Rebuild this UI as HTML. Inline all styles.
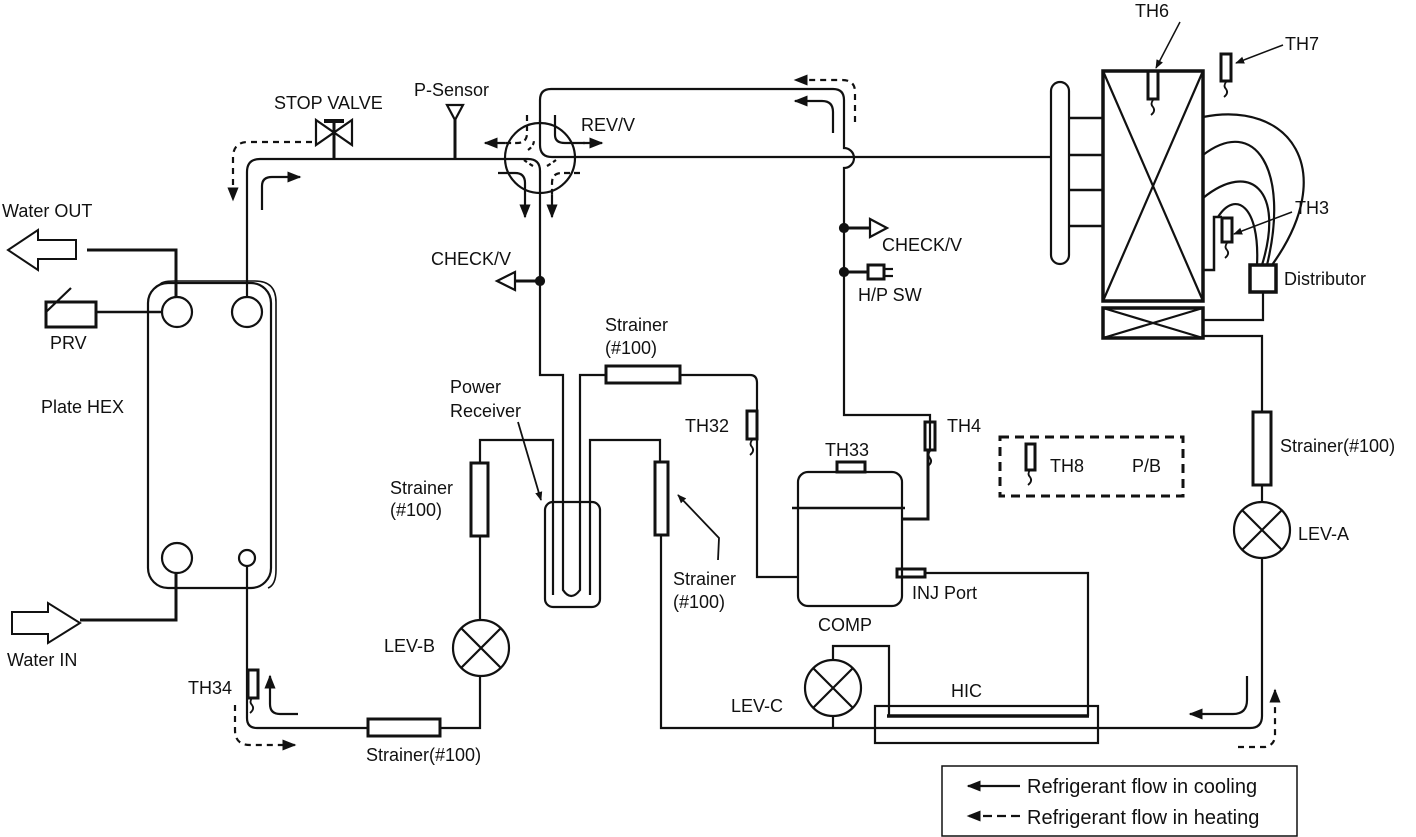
<!DOCTYPE html>
<html><head><meta charset="utf-8"><style>
html,body{margin:0;padding:0;background:#fff;}
svg{display:block;}
text{font-family:"Liberation Sans",sans-serif;font-size:18px;fill:#111;}
</style></head><body>
<svg width="1416" height="837" viewBox="0 0 1416 837" xmlns="http://www.w3.org/2000/svg">
<defs>
<marker id="ah" viewBox="0 0 10 10" refX="9" refY="5" markerWidth="9" markerHeight="9" orient="auto" markerUnits="userSpaceOnUse"><path d="M0,1 L10,5 L0,9 z" fill="#111"/></marker>
<marker id="ahb" viewBox="0 0 10 10" refX="9" refY="5" markerWidth="14" markerHeight="14" orient="auto" markerUnits="userSpaceOnUse"><path d="M0,1 L10,5 L0,9 z" fill="#111"/></marker>
</defs>
<g fill="none" stroke="#111" stroke-width="2.2">
<!-- top main pipe -->
<path d="M247,290 V172 Q247,159 260,159 H528 Q540,159 540,171 V375 H563 V590 Q571,602 580,590 V375 H605"/>
<path d="M540,120 V145 Q540,157 552,157 H1052"/>
<!-- stop valve -->
<line x1="334" y1="121" x2="334" y2="159" stroke-width="3"/>
<line x1="324" y1="121" x2="344" y2="121" stroke-width="4"/>
<path d="M316,120 L352,145 L352,120 L316,145 Z"/>
<!-- P-sensor -->
<line x1="455" y1="118" x2="455" y2="159" stroke-width="3"/>
<path d="M447,105 L463,105 L455,120 Z"/>
<!-- REV/V -->
<circle cx="540" cy="158" r="35"/>
<path d="M540,122 V100 Q540,89 551,89 H833 Q844,89 844,100 V148 A9,9 0 0 1 844,168 V415 H930 V450"/>
<!-- ticks and dashed internals -->
<path d="M555,115 V135 Q555,143 565,143 H585"/>
<path d="M527,115 V133 Q527,143 517,143 H505" stroke-dasharray="6,4"/>
<path d="M498,173 H515 Q525,173 525,183 V195"/>
<path d="M580,173 H562 Q552,173 552,183 V195" stroke-dasharray="6,4"/>
<path d="M528,150 Q534,146 534,140" stroke-dasharray="4,3"/>
<path d="M547,166 Q552,163 556,160" stroke-dasharray="4,3"/>
<path d="M533,166 Q528,163 524,160" stroke-dasharray="4,3"/>
<line x1="583" y1="143" x2="602" y2="143" marker-end="url(#ahb)"/>
<line x1="505" y1="143" x2="485" y2="143" marker-end="url(#ahb)"/>
<line x1="525" y1="195" x2="525" y2="217" marker-end="url(#ahb)"/>
<line x1="552" y1="195" x2="552" y2="217" marker-end="url(#ahb)"/>
<!-- check/V left -->
<circle cx="540" cy="281" r="4" fill="#111"/>
<line x1="540" y1="281" x2="515" y2="281" stroke-width="3"/>
<path d="M515,272 L515,290 L497,281 Z"/>
<!-- check/V right, H/P SW -->
<circle cx="844" cy="228" r="4" fill="#111"/>
<line x1="844" y1="228" x2="870" y2="228" stroke-width="3"/>
<path d="M870,219 L870,237 L887,228 Z"/>
<circle cx="844" cy="272" r="4" fill="#111"/>
<line x1="844" y1="272" x2="868" y2="272" stroke-width="3"/>
<rect x="868" y="265" width="16" height="14" stroke-width="3"/>
<line x1="884" y1="269" x2="893" y2="269"/><line x1="884" y1="276" x2="893" y2="276"/>
<!-- Plate HEX -->
<rect x="148" y="283" width="123" height="305" rx="20"/>
<path d="M160,285 Q160,281 175,281 H255 Q276,281 276,302 V570 Q276,585 268,588" stroke-width="1.6"/>
<circle cx="177" cy="312" r="15"/><circle cx="247" cy="312" r="15"/>
<circle cx="177" cy="558" r="15"/><circle cx="247" cy="558" r="8"/>
<path d="M247,297 V290"/>
<path d="M87,250 H176 V297" stroke-width="3"/>
<path d="M76,240 V259 H38 V270 L8,250 L38,230 V240 Z" stroke-width="2"/>
<rect x="46" y="302" width="50" height="25" stroke-width="3"/>
<line x1="96" y1="312" x2="162" y2="312" stroke-width="2.5"/>
<line x1="46" y1="312" x2="71" y2="288"/>
<path d="M176,573 V620 H80" stroke-width="3"/>
<path d="M12,612 H48 V603 L80,623 L48,643 V634 H12 Z" stroke-width="2"/>
<!-- bottom-left loop -->
<path d="M247,566 V718 Q247,728 257,728 H368"/>
<rect x="368" y="719" width="72" height="17" stroke-width="3"/>
<path d="M440,728 H480 V676"/>
<circle cx="481" cy="648" r="28"/>
<path d="M461,628 L501,668 M501,628 L461,668"/>
<path d="M480,620 V536"/>
<rect x="471" y="463" width="17" height="73" stroke-width="3"/>
<path d="M480,463 V440 H553 V595"/>
<!-- receiver -->
<rect x="545" y="502" width="55" height="105" rx="8"/>
<path d="M590,595 V440 H660 V462"/>
<rect x="655" y="462" width="13" height="73" stroke-width="3"/>
<path d="M661,535 V728 H1250 Q1262,728 1262,716 V558"/>
<rect x="606" y="366" width="74" height="17" stroke-width="3"/>
<path d="M680,375 H750 Q757,375 757,383 V577 H798"/>
<!-- TH32 -->
<rect x="747" y="411" width="10" height="28" stroke-width="3"/>
<!-- comp -->
<rect x="798" y="472" width="104" height="134" rx="10"/>
<line x1="792" y1="508" x2="905" y2="508" stroke-width="2.5"/>
<rect x="837" y="462" width="28" height="10" stroke-width="3"/>
<path d="M902,519 H928 V450" stroke-width="3"/>
<rect x="925" y="422" width="10" height="28" stroke-width="3"/>
<rect x="897" y="569" width="28" height="8" stroke-width="3"/>
<path d="M925,573 H1088 V716"/>
<!-- HIC -->
<rect x="875" y="706" width="223" height="37"/>
<line x1="887" y1="716" x2="1089" y2="716" stroke-width="3.5"/>
<path d="M889,716 V646 H833 V660"/>
<circle cx="833" cy="688" r="28"/>
<path d="M813,668 L853,708 M853,668 L813,708"/>
<path d="M833,716 V728"/>
<!-- LEV-A / strainer right -->
<circle cx="1262" cy="530" r="28"/>
<path d="M1242,510 L1282,550 M1282,510 L1242,550"/>
<path d="M1262,502 V485"/>
<rect x="1253" y="412" width="18" height="73" stroke-width="3"/>
<path d="M1262,412 V336 H1203"/>
<!-- heat exchanger -->
<rect x="1103" y="71" width="100" height="230" stroke-width="3.5"/>
<path d="M1103,71 L1203,301 M1203,71 L1103,301"/>
<rect x="1103" y="308" width="100" height="30" stroke-width="3.5"/>
<path d="M1103,308 L1203,338 M1203,308 L1103,338"/>
<rect x="1051" y="82" width="18" height="182" rx="9"/>
<path d="M1069,118 H1103 M1069,155 H1103 M1069,190 H1103 M1069,226 H1103" stroke-width="2.5"/>
<!-- distributor -->
<rect x="1250" y="265" width="26" height="27" stroke-width="3.5"/>
<path d="M1263,292 V320 H1203"/>
<path d="M1203,117 C1290,100 1340,170 1272,265"/>
<path d="M1203,155 C1255,115 1290,170 1267,265"/>
<path d="M1203,198 C1250,160 1285,190 1262,265"/>
<path d="M1218,217 C1235,190 1260,205 1257,265"/>
<path d="M1203,270 H1214 V217 H1222" stroke-width="2.5"/>
<rect x="1222" y="218" width="10" height="24" stroke-width="3"/>
<rect x="1148" y="71" width="10" height="28" stroke-width="3"/>
<rect x="1221" y="54" width="10" height="27" stroke-width="3"/>
<!-- sensor squiggles -->
<path d="M1153,100 q-3,4 0,7 q3,4 -2,8" stroke-width="1.8"/>
<path d="M1226,82 q-3,4 0,7 q3,4 -2,8" stroke-width="1.8"/>
<path d="M1227,243 q-3,4 0,7 q3,4 -2,8" stroke-width="1.8"/>
<path d="M752,440 q-3,4 0,7 q3,4 -2,8" stroke-width="1.8"/>
<path d="M930,451 q-3,4 0,7 q3,4 -2,8" stroke-width="1.8"/>
<path d="M1030,470 q-3,4 0,7 q3,4 -2,8" stroke-width="1.8"/>
<path d="M252,698 q-3,4 0,7 q3,4 -2,8" stroke-width="1.8"/>
<!-- TH34 -->
<rect x="248" y="670" width="10" height="28" stroke-width="3"/>
<!-- TH8 box -->
<rect x="1000" y="437" width="183" height="59" stroke-width="3" stroke-dasharray="9,6"/>
<rect x="1026" y="444" width="9" height="26" stroke-width="3"/>
<!-- pointer arrows -->
<line x1="1180" y1="22" x2="1156" y2="68" stroke-width="1.5" marker-end="url(#ah)"/>
<line x1="1283" y1="45" x2="1236" y2="63" stroke-width="1.5" marker-end="url(#ah)"/>
<line x1="1292" y1="212" x2="1234" y2="234" stroke-width="1.5" marker-end="url(#ah)"/>
<line x1="518" y1="422" x2="541" y2="500" stroke-width="1.8" marker-end="url(#ah)"/>
<path d="M718,560 L719,538 L678,495" stroke-width="1.8" marker-end="url(#ah)"/>
<!-- flow arrows -->
<path d="M262,210 V186 Q262,177 272,177 H300" marker-end="url(#ahb)"/>
<path d="M312,142 H248 Q234,142 233,156 V200" stroke-dasharray="6,5" marker-end="url(#ahb)"/>
<path d="M833,133 V112 Q833,101 822,101 H795" marker-end="url(#ahb)"/>
<path d="M855,122 V92 Q855,80 842,80 H795" stroke-dasharray="6,5" marker-end="url(#ahb)"/>
<path d="M298,714 H280 Q270,714 270,704 V676" marker-end="url(#ahb)"/>
<path d="M235,705 V730 Q235,745 250,745 H295" stroke-dasharray="6,5" marker-end="url(#ahb)"/>
<path d="M1247,676 V700 Q1247,714 1233,714 H1190" marker-end="url(#ahb)"/>
<path d="M1238,747 H1265 Q1275,745 1275,735 V690" stroke-dasharray="6,5" marker-end="url(#ahb)"/>
<!-- legend -->
<rect x="942" y="766" width="355" height="70" stroke-width="1.5"/>
<line x1="1020" y1="786" x2="968" y2="786" marker-end="url(#ahb)" stroke-width="2.2"/>
<line x1="1020" y1="816" x2="968" y2="816" stroke-dasharray="9,5" marker-end="url(#ahb)" stroke-width="2.2"/>
</g>
<g>
<text x="1135" y="17">TH6</text>
<text x="1285" y="50">TH7</text>
<text x="1295" y="214">TH3</text>
<text x="1284" y="285">Distributor</text>
<text x="1280" y="452">Strainer(#100)</text>
<text x="1298" y="540">LEV-A</text>
<text x="274" y="109">STOP VALVE</text>
<text x="414" y="96">P-Sensor</text>
<text x="581" y="131">REV/V</text>
<text x="882" y="251">CHECK/V</text>
<text x="858" y="301">H/P SW</text>
<text x="431" y="265">CHECK/V</text>
<text x="2" y="217">Water OUT</text>
<text x="50" y="349">PRV</text>
<text x="41" y="413">Plate HEX</text>
<text x="7" y="666">Water IN</text>
<text x="450" y="393">Power</text>
<text x="450" y="417">Receiver</text>
<text x="605" y="331">Strainer</text>
<text x="605" y="354">(#100)</text>
<text x="390" y="494">Strainer</text>
<text x="390" y="516">(#100)</text>
<text x="685" y="432">TH32</text>
<text x="825" y="456">TH33</text>
<text x="947" y="432">TH4</text>
<text x="1050" y="472">TH8</text>
<text x="1132" y="472">P/B</text>
<text x="673" y="585">Strainer</text>
<text x="673" y="608">(#100)</text>
<text x="912" y="599">INJ Port</text>
<text x="818" y="631">COMP</text>
<text x="384" y="652">LEV-B</text>
<text x="188" y="694">TH34</text>
<text x="731" y="712">LEV-C</text>
<text x="951" y="697">HIC</text>
<text x="366" y="761">Strainer(#100)</text>
<text x="1027" y="793" style="font-size:20px">Refrigerant flow in cooling</text>
<text x="1027" y="824" style="font-size:20px">Refrigerant flow in heating</text>
</g>
</svg>
</body></html>
